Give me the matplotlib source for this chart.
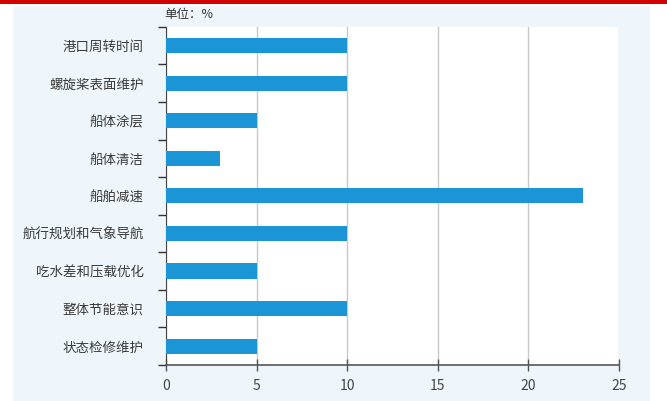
import matplotlib.pyplot as plt
from matplotlib.patches import Rectangle

plt.rcParams['font.family'] = ['Noto Sans CJK SC', 'DejaVu Sans']

categories = ['港口周转时间', '螺旋桨表面维护', '船体涂层', '船体清洁', '船舶减速',
              '航行规划和气象导航', '吃水差和压载优化', '整体节能意识', '状态检修维护']
values = [10, 10, 5, 3, 23, 10, 5, 10, 5]
xticks = [0, 5, 10, 15, 20, 25]

fig = plt.figure(figsize=(6.67, 4.01), dpi=100)
fig.patch.set_facecolor('white')
# light blue panel and red top band
fig.add_artist(Rectangle((0.02, 0.0), 0.955, 0.985, transform=fig.transFigure,
                         facecolor='#eef6fb', edgecolor='none', zorder=0))
fig.add_artist(Rectangle((0, 0.99), 1, 0.01, transform=fig.transFigure,
                         facecolor='#d40000', edgecolor='none', zorder=1))

ax = fig.add_axes([0.249, 0.09, 0.679, 0.843])
ax.set_facecolor('white')
y = list(range(len(categories)))
ax.barh(y, values, height=0.4, color='#1b95d5', zorder=3)
ax.set_ylim(len(categories) - 0.5, -0.5)
ax.set_xlim(0, 25)
ax.set_xticks(xticks)
ax.set_xticklabels([str(t) for t in xticks], fontsize=10, color='#444444')
ax.set_yticks(y)
ax.set_yticklabels(categories, fontsize=9.7, color='#3a3a3a')
ax.tick_params(axis='y', length=0, pad=16)
ax.set_yticks([i + 0.5 for i in range(-1, len(categories))], minor=True)
ax.tick_params(axis='y', which='minor', length=6, color='#333333', width=1)
ax.tick_params(axis='x', direction='inout', length=8, color='#555555', width=1, pad=6)
ax.grid(axis='x', color='#c8c8c8', linewidth=1, zorder=1)
for s in ['top', 'right']:
    ax.spines[s].set_visible(False)
ax.spines['left'].set_color('#444444')
ax.spines['bottom'].set_color('#555555')
ax.spines['bottom'].set_linewidth(1.2)

fig.text(0.247, 0.955, '单位：%', fontsize=9, color='#333333')

fig.savefig('out.png', dpi=100)
